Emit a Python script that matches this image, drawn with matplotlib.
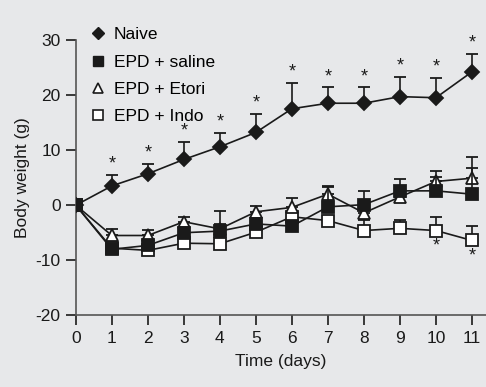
import numpy as np
import matplotlib.pyplot as plt
from matplotlib.lines import Line2D

plt.rcParams['font.family'] = ['Liberation Sans', 'DejaVu Sans']
plt.rcParams['axes.unicode_minus'] = False

days = np.arange(12)

naive = [0, 3.5, 5.7, 8.3, 10.6, 13.2, 17.5, 18.5, 18.5, 19.7, 19.5, 24.2]
naive_err = [0, 2.0, 1.8, 3.2, 2.5, 3.4, 4.7, 2.9, 2.9, 3.6, 3.6, 3.3]

saline = [0, -8.0, -7.3, -5.0, -4.7, -3.4, -3.8, -0.3, 0.1, 2.6, 2.6, 2.0]
saline_err = [0, 0.6, 0.8, 1.0, 3.6, 0.8, 0.9, 3.7, 2.5, 2.2, 2.6, 4.7]

etori = [0, -5.5, -5.5, -3.0, -4.3, -1.2, -0.4, 2.0, -1.4, 1.5, 4.3, 4.9]
etori_err = [0, 1.2, 1.0, 0.9, 0.8, 1.0, 1.7, 1.3, 0.6, 0.8, 1.9, 3.9]

indo = [0, -7.8, -8.2, -6.9, -7.0, -4.9, -2.1, -2.8, -4.6, -4.2, -4.6, -6.4]
indo_err = [0, 0.5, 0.5, 0.6, 0.6, 0.8, 0.6, 0.7, 2.0, 1.6, 2.4, 2.7]

naive_stars = [1, 2, 3, 4, 5, 6, 7, 8, 9, 10, 11]
indo_stars = [10, 11]

ink = '#1a1a1a'
bg = '#e7e8ea'
fig = plt.figure(figsize=(4.86, 3.87), dpi=100, facecolor=bg)
ax = fig.add_axes([0.156, 0.185, 0.844, 0.712], facecolor=bg)


def series(y, err, marker, face, ms, z):
    ax.errorbar(days, y, yerr=[np.zeros(len(err)), err], color=ink,
                marker=marker, mfc=face, mec=ink, ms=ms, mew=1.3,
                lw=1.2, elinewidth=1.2, capsize=4.5, capthick=2, zorder=z)


series(naive, naive_err, 'D', ink, 7, 5)
series(indo, indo_err, 's', 'white', 8.5, 2)
series(etori, etori_err, '^', 'white', 8.5, 3)
series(saline, saline_err, 's', ink, 8.5, 4)

for d in naive_stars:
    ax.text(d, naive[d] + naive_err[d] + 0.4, '*', ha='center', va='bottom',
            fontsize=13, color=ink)
for d in indo_stars:
    ax.text(d, indo[d] - 1.3, '*', ha='center', va='top', fontsize=13, color=ink)

ax.set_xlim(0, 11.39)
ax.set_ylim(-20, 30)
ax.set_xticks(days)
ax.set_yticks([-20, -10, 0, 10, 20, 30])
ax.set_xlabel('Time (days)', fontsize=12.5, color=ink, labelpad=6)
ax.set_ylabel('Body weight (g)', fontsize=12.5, color=ink, labelpad=4)
ax.tick_params(labelsize=12.5, colors=ink, direction='out', length=7, width=1.2, pad=4)
for s in ['top', 'right']:
    ax.spines[s].set_visible(False)
for s in ['left', 'bottom']:
    ax.spines[s].set_color('#555555')
    ax.spines[s].set_linewidth(1.2)

leg_handles = [
    Line2D([], [], ls='none', marker='D', mfc=ink, mec=ink, ms=6),
    Line2D([], [], ls='none', marker='s', mfc=ink, mec=ink, ms=7),
    Line2D([], [], ls='none', marker='^', mfc='white', mec=ink, ms=7, mew=1.2),
    Line2D([], [], ls='none', marker='s', mfc='white', mec=ink, ms=7, mew=1.2),
]
ax.legend(leg_handles, ['Naive', 'EPD + saline', 'EPD + Etori', 'EPD + Indo'],
          loc='upper left', bbox_to_anchor=(0.0, 1.09), frameon=False,
          fontsize=12.5, handletextpad=0.3, labelspacing=0.7, handlelength=1.2,
          borderaxespad=0.3)

fig.savefig('out.png', dpi=100, facecolor=bg)
